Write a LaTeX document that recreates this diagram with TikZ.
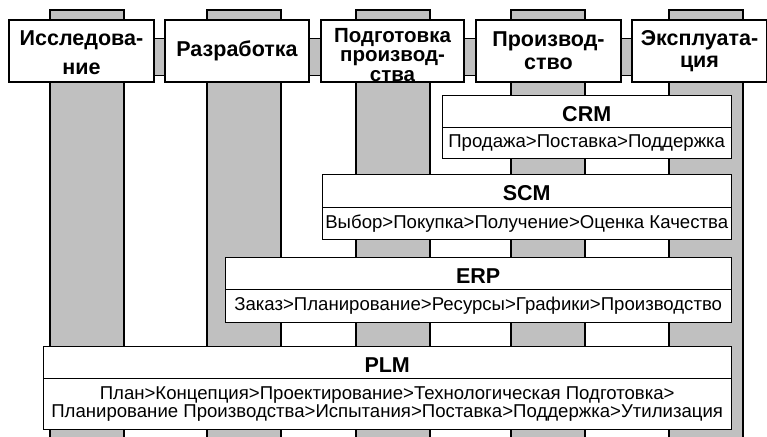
\documentclass[tikz,border=0pt]{standalone}
\usepackage{fontspec}
\setmainfont{Liberation Sans}
\usetikzlibrary{backgrounds}
\definecolor{colgray}{RGB}{192,192,192}
\begin{document}
\begin{tikzpicture}[x=1pt,y=-1pt, line width=2pt,
  column/.style={draw=black, fill=colgray, inner sep=0pt, anchor=north west, minimum width=74pt, minimum height=440pt},
  hdr/.style={draw, fill=white, inner sep=0pt, anchor=north west, align=center, minimum height=62pt, font=\bfseries\fontsize{21.5}{29}\selectfont},
  ttl/.style={draw, fill=white, inner sep=0pt, anchor=north west, text height=20pt, text depth=0pt, font=\bfseries\fontsize{21.5}{22}\selectfont},
  dsc/.style={draw, fill=white, inner sep=0pt, anchor=north west, align=center, font=\fontsize{18.6}{17.5}\selectfont},
]
\useasboundingbox (0,0) rectangle (767,436);
% columns
\node[column] (c1) at (49,9) {};
\node[column] (c2) at (206,9) {};
\node[column] (c3) at (355,9) {};
\node[column] (c4) at (510,9) {};
\node[column] (c5) at (668,9) {};
% header boxes
\node[hdr, minimum width=145pt] (h1) at (8,19) {\rule{0pt}{18pt}Исследова-\\ние};
\node[hdr, minimum width=144pt] (h2) at (164,19) {Разработка};
\node[hdr, minimum width=143pt, font=\bfseries\fontsize{20.5}{19.5}\selectfont] (h3) at (320,19) {\rule{0pt}{22pt}Подготовка\\производ-\\ства};
\node[hdr, minimum width=145pt, font=\bfseries\fontsize{21.5}{23}\selectfont] (h4) at (475,19) {Производ-\\ство};
\node[hdr, minimum width=135pt, font=\bfseries\fontsize{21.5}{22}\selectfont] (h5) at (631,19) {Эксплуата-\\ция};
\begin{pgfonlayer}{background}
\draw[fill=colgray] ([yshift=12.5pt]h1.center) rectangle ([yshift=-24pt]h5.center);
\end{pgfonlayer}
% CRM
\node[ttl, minimum width=289pt, minimum height=32pt] (crm) at (442,95) {CRM};
\node[dsc, minimum width=289pt, minimum height=31pt] (crmd) at (crm.south west) {Продажа>Поставка>Поддержка};
% SCM
\node[ttl, minimum width=409pt, minimum height=33pt] (scm) at (322,174) {SCM};
\node[dsc, minimum width=409pt, minimum height=32pt] (scmd) at (scm.south west) {Выбор>Покупка>Получение>Оценка Качества};
% ERP
\node[ttl, minimum width=506pt, minimum height=32pt] (erp) at (225,257) {ERP};
\node[dsc, minimum width=506pt, minimum height=33pt] (erpd) at (erp.south west) {Заказ>Планирование>Ресурсы>Графики>Производство};
% PLM
\node[ttl, minimum width=688pt, minimum height=32pt] (plm) at (43,346) {PLM};
\node[dsc, minimum width=688pt, minimum height=51pt] (plmd) at (plm.south west) {План>Концепция>Проектирование>Технологическая Подготовка>\\Планирование Производства>Испытания>Поставка>Поддержка>Утилизация};
\end{tikzpicture}
\end{document}
